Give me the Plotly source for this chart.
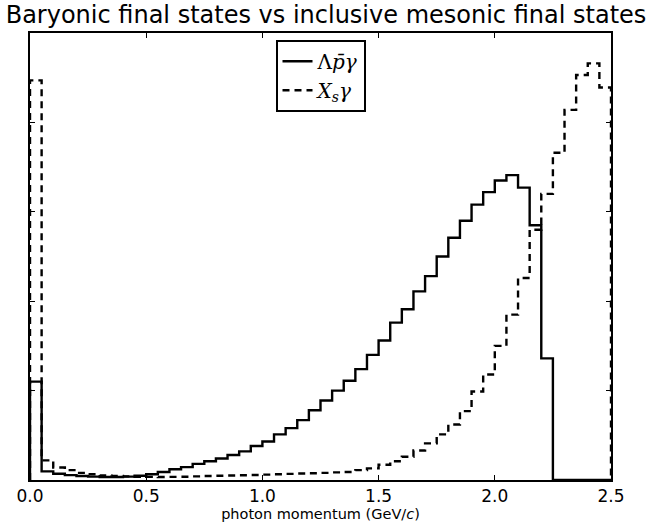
import numpy as np
import plotly.graph_objects as go

# Histogram: 50 bins of 0.05 GeV/c from 0.0 to 2.5
bin_edges = np.round(np.arange(51) * 0.05, 2)

baryonic = [1.10, 0.097, 0.07, 0.055, 0.045, 0.038, 0.033, 0.033, 0.038, 0.048,
            0.065, 0.089, 0.12, 0.144, 0.18, 0.21, 0.24, 0.28, 0.32, 0.38,
            0.43, 0.51, 0.58, 0.67, 0.78, 0.89, 1.00, 1.11, 1.24, 1.40,
            1.56, 1.76, 1.91, 2.11, 2.28, 2.50, 2.71, 2.90, 3.08, 3.22,
            3.35, 3.41, 3.27, 2.85, 1.36, 0.0, 0.0, 0.0, 0.0, 0.0]

mesonic = [4.47, 0.22, 0.14, 0.11, 0.08, 0.065, 0.05, 0.045, 0.04, 0.036,
           0.035, 0.033, 0.035, 0.036, 0.04, 0.045, 0.048, 0.05, 0.053, 0.056,
           0.06, 0.064, 0.068, 0.072, 0.076, 0.08, 0.085, 0.09, 0.11, 0.13,
           0.17, 0.21, 0.26, 0.33, 0.41, 0.51, 0.62, 0.77, 0.99, 1.18,
           1.50, 1.85, 2.26, 2.80, 3.20, 3.66, 4.14, 4.53, 4.66, 4.39]

x_ticks = [0.0, 0.5, 1.0, 1.5, 2.0, 2.5]
x_tick_text = ["0.0", "0.5", "1.0", "1.5", "2.0", "2.5"]
y_ticks = [0, 1, 2, 3, 4, 5]


def step_xy(edges, counts):
    xs = [edges[0]] + list(edges[:-1]) + [edges[-1], edges[-1]]
    ys = [0] + list(counts) + [counts[-1], 0]
    return xs, ys


fig = go.Figure()
xs, ys = step_xy(bin_edges, baryonic)
fig.add_trace(go.Scatter(
    x=xs, y=ys, mode="lines", line_shape="hv",
    line=dict(color="black", width=2.4),
    name="Λ<i>p̄γ</i>", cliponaxis=False))
xs, ys = step_xy(bin_edges, mesonic)
fig.add_trace(go.Scatter(
    x=xs, y=ys, mode="lines", line_shape="hv",
    line=dict(color="black", width=2.4, dash="7px,5px"),
    name="<i>X<sub>s</sub>γ</i>", cliponaxis=False))

fig.update_layout(
    width=652, height=530,
    margin=dict(l=30, r=41, t=33, b=47),
    paper_bgcolor="white", plot_bgcolor="white",
    font=dict(family="DejaVu Sans", color="black", size=14),
    title=dict(text="Baryonic final states vs inclusive mesonic final states",
               x=0.5, xanchor="center", y=0.972, yanchor="middle",
               font=dict(family="DejaVu Sans", size=24, color="black")),
    showlegend=True,
    legend=dict(x=0.5, xanchor="center", y=0.985, yanchor="top",
                bgcolor="white", bordercolor="black", borderwidth=2,
                font=dict(family="DejaVu Serif", size=20, color="black"),
                tracegroupgap=0, itemwidth=30),
    xaxis=dict(range=[0, 2.5], tickvals=x_ticks, ticktext=x_tick_text,
               ticks="inside", ticklen=5, tickcolor="black", tickwidth=1,
               showline=True, linecolor="black", linewidth=1.5, mirror="ticks",
               showgrid=False, zeroline=False,
               tickfont=dict(family="DejaVu Sans", size=17),
               title=dict(text="photon momentum (GeV/<i>c</i>)", standoff=2,
                          font=dict(family="DejaVu Sans", size=14.5))),
    yaxis=dict(range=[0, 5], tickvals=y_ticks, showticklabels=False,
               ticks="inside", ticklen=5, tickcolor="black", tickwidth=1,
               showline=True, linecolor="black", linewidth=1.5, mirror="ticks",
               showgrid=False, zeroline=False),
)

fig.write_html("out.html")
